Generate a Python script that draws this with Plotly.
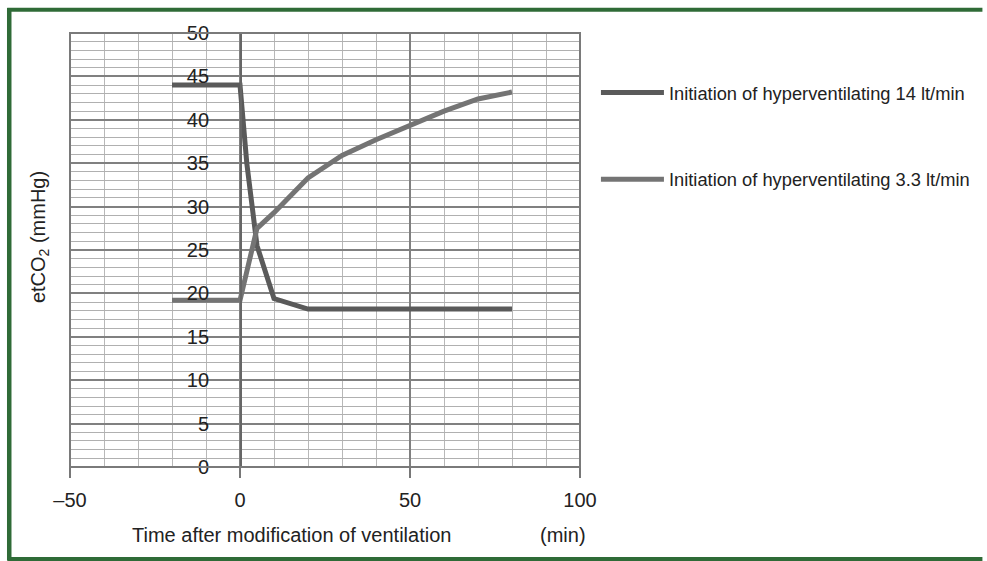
import plotly.graph_objects as go

# Data
time_14 = [-20, 0, 2, 5, 10, 20, 30, 40, 50, 60, 70, 80]
etco2_14 = [44, 44, 35, 25.5, 19.4, 18.2, 18.2, 18.2, 18.2, 18.2, 18.2, 18.2]
time_33 = [-20, 0, 5, 10, 20, 30, 40, 50, 60, 70, 80]
etco2_33 = [19.2, 19.2, 27.5, 29.3, 33.3, 35.9, 37.7, 39.3, 41.0, 42.4, 43.2]
series_names = ["Initiation of hyperventilating 14 lt/min",
                "Initiation of hyperventilating 3.3 lt/min"]
x_ticks = [-50, 0, 50, 100]
x_tick_text = ["\u201350", "0", "50", "100"]
y_ticks = [0, 5, 10, 15, 20, 25, 30, 35, 40, 45, 50]

FONT = "Liberation Sans, Arial, sans-serif"
TXT = "#222222"
GREEN = "#2f6b37"

W, H = 987, 561
# plot area in screen pixels
L, R, T, B = 70, 582, 33, 467
pw, ph = R - L, B - T

def px(x):
    return (x - L) / pw

def py(y):
    return (B - y) / ph

fig = go.Figure()
fig.add_trace(go.Scatter(x=time_14, y=etco2_14, mode="lines", name=series_names[0],
                         legendgroup="a",
                         line=dict(color="#5a5a5a", width=5)))
fig.add_trace(go.Scatter(x=time_33, y=etco2_33, mode="lines", name=series_names[1],
                         legendgroup="b",
                         line=dict(color="#747474", width=5)))

shapes = [
    # plot frame
    dict(type="rect", xref="paper", yref="paper", x0=0, x1=1, y0=0, y1=1,
         line=dict(color="#7a7a7a", width=2), layer="above"),
    # green outer border (kept inside the page)
    dict(type="line", xref="paper", yref="paper", x0=px(9), x1=px(9), y0=py(8), y1=py(560),
         line=dict(color=GREEN, width=4.5)),
    dict(type="line", xref="paper", yref="paper", x0=px(7), x1=px(986), y0=py(9.8), y1=py(9.8),
         line=dict(color=GREEN, width=4)),
    dict(type="line", xref="paper", yref="paper", x0=px(7), x1=px(986), y0=py(559), y1=py(559),
         line=dict(color=GREEN, width=4)),
]

fig.update_layout(
    width=W, height=H,
    margin=dict(l=L, r=W - R, t=T, b=H - B),
    paper_bgcolor="white", plot_bgcolor="white",
    font=dict(family=FONT, color=TXT, size=20),
    showlegend=True,
    legend=dict(x=px(598), y=py(74), xanchor="left", yanchor="top",
                font=dict(size=18.3, color=TXT, family=FONT),
                itemwidth=63, tracegroupgap=60, bgcolor="rgba(0,0,0,0)"),
    shapes=shapes,
    xaxis=dict(range=[-50, 100], tickvals=x_ticks, ticktext=x_tick_text,
               ticks="outside", ticklen=10, tickcolor="#777777", tickwidth=1.5,
               showgrid=True, gridcolor="#808080", gridwidth=1.5,
               minor=dict(dtick=10, tick0=0, showgrid=True, gridcolor="#b8b8b8", gridwidth=1),
               zeroline=False, showline=False, ticklabelstandoff=5,
               tickfont=dict(size=20, color=TXT)),
    yaxis=dict(range=[0, 50], tickvals=y_ticks, anchor="free", position=px(241.7),
               showline=True, linecolor="#666666", linewidth=2,
               ticks="", ticklabelstandoff=27,
               showgrid=True, gridcolor="#808080", gridwidth=1.5,
               minor=dict(dtick=1, tick0=0, showgrid=True, gridcolor="#b0b0b0", gridwidth=1),
               zeroline=False, tickfont=dict(size=20, color=TXT)),
    annotations=[
        dict(text="etCO<sub>2</sub> (mmHg)", xref="paper", yref="paper",
             x=px(40), y=py(237), textangle=-90, showarrow=False,
             xanchor="center", yanchor="middle", font=dict(size=20, color=TXT)),
        dict(text="Time after modification of ventilation", xref="paper", yref="paper",
             x=px(292), y=py(535), showarrow=False, xanchor="center", yanchor="middle",
             font=dict(size=20, color=TXT)),
        dict(text="(min)", xref="paper", yref="paper",
             x=px(565), y=py(535), showarrow=False, xanchor="center", yanchor="middle",
             font=dict(size=20, color=TXT)),
    ],
)

fig.write_html("out.html", config=dict(displayModeBar=False),
               post_script="document.body.style.margin='0';document.body.style.overflow='hidden';")
